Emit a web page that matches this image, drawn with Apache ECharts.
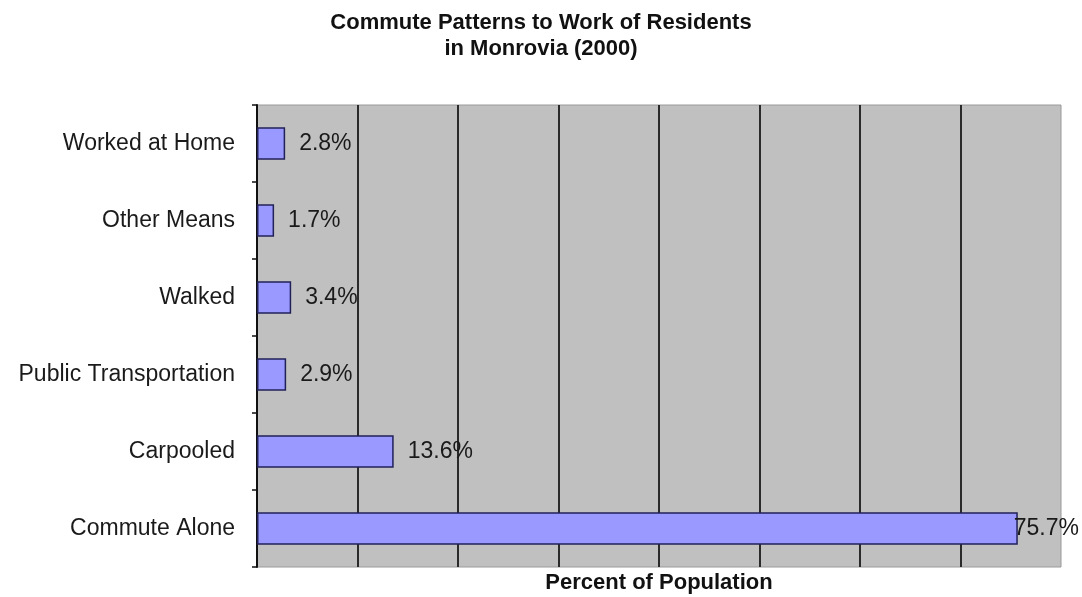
<!DOCTYPE html>
<html>
<head>
<meta charset="utf-8">
<script src="https://cdn.jsdelivr.net/npm/echarts@6/dist/echarts.min.js"></script>
<style>
  html, body { margin: 0; padding: 0; background: #ffffff; }
  #chart { width: 1082px; height: 597px; }
</style>
</head>
<body>
<div id="chart"></div>
<script>
// Commute modes, listed bottom to top as drawn on the category axis
const categories = ['Commute Alone', 'Carpooled', 'Public Transportation', 'Walked', 'Other Means', 'Worked at Home'];
const percents = [75.7, 13.6, 2.9, 3.4, 1.7, 2.8];
const titleLines = ['Commute Patterns to Work of Residents', 'in Monrovia (2000)'];
const xAxisName = 'Percent of Population';

const FONT = '"Liberation Sans", Arial, sans-serif';

const chart = echarts.init(document.getElementById('chart'), null, { renderer: 'canvas' });

const barData = percents.map(function (v, i) {
  const item = { value: v };
  // the widest bar's label sits tight against the bar end so it stays in view
  if (i === 0) item.label = { distance: -4 };
  return item;
});

chart.setOption({
  animation: false,
  backgroundColor: '#ffffff',
  title: {
    text: titleLines.join('\n'),
    left: 'center',
    top: 5,
    textStyle: {
      fontFamily: FONT,
      fontSize: 22,
      fontWeight: 'bold',
      color: '#111111',
      lineHeight: 26
    }
  },
  grid: {
    left: 257,
    right: 21,
    top: 105,
    bottom: 30,
    outerBoundsMode: 'none',
    show: true,
    backgroundColor: '#c0c0c0',
    borderColor: '#9a9a9a',
    borderWidth: 1
  },
  xAxis: {
    type: 'value',
    min: 0,
    max: 80,
    interval: 10,
    name: xAxisName,
    nameLocation: 'middle',
    nameGap: 5,
    nameTextStyle: {
      fontFamily: FONT,
      fontSize: 22,
      fontWeight: 'bold',
      color: '#111111'
    },
    axisLine: { show: false },
    axisTick: { show: false },
    axisLabel: { show: false },
    splitLine: {
      show: true,
      showMinLine: false,
      showMaxLine: false,
      lineStyle: { color: '#2a2a2a', width: 2 }
    }
  },
  yAxis: {
    type: 'category',
    data: categories,
    axisLine: { show: true, lineStyle: { color: '#111111', width: 2 } },
    axisTick: { show: true, length: 5, lineStyle: { color: '#111111', width: 1.5 } },
    axisLabel: {
      margin: 22,
      fontFamily: FONT,
      fontSize: 23,
      color: '#1a1a1a'
    },
    splitLine: { show: false }
  },
  series: [{
    type: 'bar',
    data: barData,
    barCategoryGap: '58%',
    itemStyle: {
      color: '#9999ff',
      borderColor: '#20205a',
      borderWidth: 1.5
    },
    label: {
      show: true,
      position: 'right',
      distance: 14,
      formatter: '{c}%',
      fontFamily: FONT,
      fontSize: 23,
      color: '#1a1a1a'
    }
  }]
});
</script>
</body>
</html>
